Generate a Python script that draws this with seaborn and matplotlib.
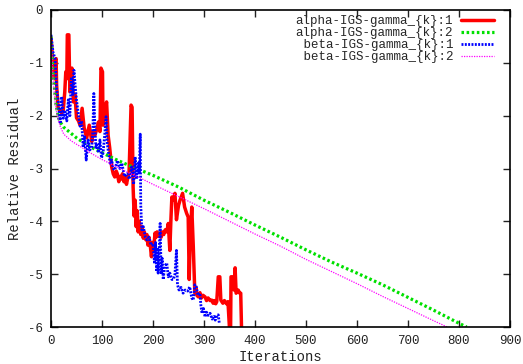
import matplotlib
matplotlib.use("Agg")
import matplotlib.pyplot as plt
import seaborn as sns
import pandas as pd

# ---- data ----
red_iter = [0,3,6,8,10,11,14,17,21,24,27,29,31,32,35,37,39,41,44,47,50,54,57,61,65,70,75,80,83,86,90,93,96,98,101,102,105,109,112,115,119,122,125,128,130,133,135,138,140,143,145,148,150,153,155,157,159,161,163,165,167,169,171,173,176,178,181,183,186,188,190,192,194,197,199,201,204,206,208,211,214,216,218,221,224,227,230,233,235,237,240,243,246,250,253,258,262,266,269,271,273,276,279,282,284,286,289,292,295,298,302,305,308,312,315,318,320,323,325,328,331,333,337,340,344,347,351,352,353,357,359,361,363,367,370,372,374]
red_val = [-0.53,-0.9,-1.3,-0.95,-0.92,-1.42,-1.86,-1.9,-1.95,-1.9,-1.55,-1.17,-1.3,-0.47,-0.47,-1.55,-1.4,-1.1,-1.74,-1.6,-2.04,-2.1,-2.18,-1.86,-2.23,-2.42,-2.18,-2.49,-2.3,-2.37,-2.25,-2.12,-2.3,-1.1,-1.17,-2.18,-1.95,-1.74,-2.37,-2.6,-2.97,-3.1,-3.16,-3.05,-3.1,-3.25,-3.15,-3.2,-3.1,-3.25,-3.16,-3.3,-3.2,-3.1,-2.46,-1.8,-1.84,-3.35,-3.9,-3.6,-4.1,-3.8,-4.2,-4.0,-4.25,-4.1,-4.32,-4.2,-4.35,-4.25,-4.45,-4.3,-4.4,-4.67,-4.4,-4.55,-4.22,-4.3,-4.2,-4.28,-4.22,-4.3,-4.2,-4.25,-4.16,-4.2,-4.04,-4.55,-4.0,-3.54,-3.6,-3.47,-3.97,-3.7,-3.6,-3.47,-3.73,-3.85,-3.92,-5.1,-4.3,-3.73,-4.48,-5.36,-5.25,-5.4,-5.43,-5.35,-5.45,-5.4,-5.43,-5.5,-5.45,-5.5,-5.49,-5.55,-5.5,-5.56,-5.52,-5.05,-5.05,-5.49,-5.55,-5.5,-5.56,-5.52,-6.2,-6.2,-5.05,-5.05,-5.3,-4.88,-5.36,-5.3,-5.36,-5.36,-6.2]

green_iter = [0,5,10,15,20,25,50,75,100,125,150,175,200,250,300,350,400,450,500,550,600,650,700,750,800,815]
green_val = [-0.5,-1.3,-1.8,-2.05,-2.15,-2.22,-2.42,-2.58,-2.7,-2.82,-2.93,-3.03,-3.13,-3.35,-3.6,-3.83,-4.07,-4.3,-4.54,-4.77,-4.98,-5.2,-5.44,-5.68,-5.93,-6.0]

blue_iter = [0,4,8,11,14,18,21,24,27,31,34,37,40,43,45,48,50,54,57,60,63,66,69,73,76,80,82,84,86,88,90,93,96,99,102,105,108,110,112,116,119,122,125,130,135,139,144,149,154,158,162,165,168,171,173,175,176,178,181,185,188,192,196,200,203,205,207,209,210,212,214,216,218,220,223,227,230,233,237,240,243,246,248,251,255,259,263,268,272,276,279,282,285,288,292,294,296,299,302,305,308,312,316,320,322,325,328,330]
blue_val = [-0.47,-0.8,-0.92,-1.5,-1.7,-2.15,-1.64,-2.05,-1.9,-2.1,-1.7,-2.0,-1.27,-1.6,-1.14,-1.5,-1.7,-2.0,-2.2,-2.1,-2.6,-2.4,-2.84,-2.46,-2.65,-2.6,-2.3,-1.58,-2.2,-2.6,-2.52,-2.7,-2.46,-2.8,-2.71,-2.4,-2.02,-2.5,-2.65,-2.9,-2.84,-3.0,-3.03,-2.85,-3.0,-2.9,-3.15,-3.1,-3.2,-2.97,-3.3,-2.78,-3.2,-2.9,-3.1,-2.35,-3.7,-4.16,-4.1,-4.3,-4.35,-4.3,-4.45,-4.42,-4.8,-4.4,-4.95,-4.5,-4.98,-4.6,-4.04,-5.0,-4.7,-5.1,-4.85,-4.79,-5.05,-4.98,-5.1,-5.1,-5.0,-4.55,-5.2,-5.3,-5.25,-5.36,-5.3,-5.32,-5.24,-5.45,-5.49,-5.2,-5.24,-5.4,-5.36,-5.6,-5.74,-5.65,-5.81,-5.72,-5.78,-5.74,-5.85,-5.8,-5.87,-5.78,-5.77,-5.93]

mag_iter = [0,4,8,12,18,25,40,60,80,100,125,150,175,200,250,300,350,400,450,500,550,600,650,700,750,777]
mag_val = [-0.5,-1.3,-1.75,-2.0,-2.2,-2.35,-2.48,-2.6,-2.72,-2.83,-2.95,-3.07,-3.18,-3.3,-3.53,-3.76,-4.0,-4.24,-4.47,-4.72,-4.95,-5.18,-5.42,-5.65,-5.88,-6.0]

labels = ["alpha-IGS-gamma_{k}:1", "alpha-IGS-gamma_{k}:2",
          "beta-IGS-gamma_{k}:1", "beta-IGS-gamma_{k}:2"]
x_ticks = [0, 100, 200, 300, 400, 500, 600, 700, 800, 900]
y_ticks = [0, -1, -2, -3, -4, -5, -6]

# ---- style ----
sns.set_style("ticks")
plt.rcParams['font.family'] = ['Liberation Mono', 'DejaVu Sans']
plt.rcParams['axes.unicode_minus'] = False

fig = plt.figure(figsize=(5.23, 3.64), dpi=100)
ax = fig.add_axes([51/523, 1-327/364, (510-51)/523, (327-10)/364])

series = [
    (red_iter, red_val, labels[0], "#ff0000", "-", 2.5),
    (green_iter, green_val, labels[1], "#00e000", (0, (0.8, 0.8)), 2.3),
    (blue_iter, blue_val, labels[2], "#0000ff", (0, (0.7, 0.5)), 2.0),
    (mag_iter, mag_val, labels[3], "#ff00ff", (0, (1, 1)), 0.9),
]
for xs, ys, lab, col, ls, lw in series:
    df = pd.DataFrame({"it": xs, "v": ys})
    sns.lineplot(data=df, x="it", y="v", ax=ax, color=col, linewidth=lw,
                 linestyle=ls, estimator=None, sort=False, label=lab)

ax.set_xlim(0, 900)
ax.set_ylim(-6, 0)
ax.set_xticks(x_ticks)
ax.set_yticks(y_ticks)
ax.set_xticklabels([str(t) for t in x_ticks])
ax.set_yticklabels([str(t) for t in y_ticks])
ax.tick_params(direction="in", top=True, right=True, length=5, width=1,
               labelsize=9, colors="#222222", pad=6)
for s in ax.spines.values():
    s.set_linewidth(1.2)
    s.set_color("black")
ax.set_xlabel("Iterations", fontsize=10, labelpad=2, color="#222222")
ax.set_ylabel("Relative Residual", fontsize=10, labelpad=4, color="#222222")

padded = [l if len(l) == 21 else " " + l for l in labels]
handles, _ = ax.get_legend_handles_labels()
leg = ax.legend(handles, padded, loc="upper right", frameon=False,
                markerfirst=False, fontsize=9, handlelength=2.7,
                labelspacing=0.0, borderaxespad=0.3, handletextpad=0.6,
                bbox_to_anchor=(0.985, 1.012))

fig.savefig("out.png", dpi=100)
